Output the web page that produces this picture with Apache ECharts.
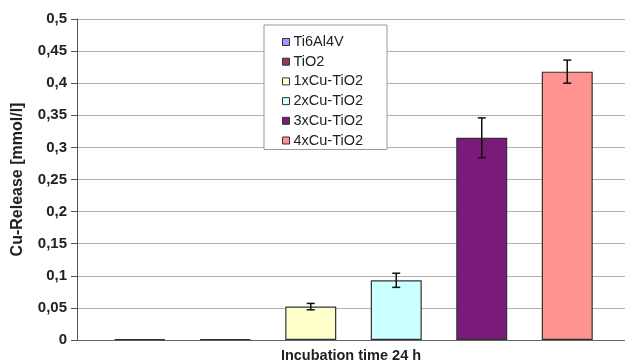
<!DOCTYPE html>
<html><head><meta charset="utf-8">
<script src="https://cdn.jsdelivr.net/npm/echarts@6/dist/echarts.min.js"></script>
<style>html,body{margin:0;padding:0;background:#fff}#c{width:625px;height:363px}</style>
</head><body><div id="c"></div>
<script>
const seriesNames = ['Ti6Al4V','TiO2','1xCu-TiO2','2xCu-TiO2','3xCu-TiO2','4xCu-TiO2'];
const values = [0.001, 0.001, 0.052, 0.093, 0.315, 0.418];
const errors = [0, 0, 0.005, 0.011, 0.031, 0.018];
const colors = ['#9999ff','#993366','#ffffcc','#ccffff','#7b1a78','#ff938f'];
const yTicks = [0, 0.05, 0.1, 0.15, 0.2, 0.25, 0.3, 0.35, 0.4, 0.45, 0.5];
const xTitle = 'Incubation time 24 h';
const yTitle = 'Cu-Release [mmol/l]';

const chart = echarts.init(document.getElementById('c'));
const font = 'Arial, "Liberation Sans", sans-serif';
const series = seriesNames.map((n,i)=>({
  name:n, type:'bar', xAxisIndex:1, yAxisIndex:1,
  barWidth:51, barGap:'-100%',
  itemStyle:{color:colors[i], borderColor:'#333', borderWidth:1.2},
  data: values.map((v,j)=> j===i ? v : '-')
}));
series.push({
  type:'custom', xAxisIndex:1, yAxisIndex:1, silent:true,
  data: values.map((v,i)=>[i, v-errors[i], v+errors[i]]).filter((d,i)=>errors[i]>0),
  renderItem:(params, api)=>{
    const lo = api.coord([api.value(0), api.value(1)]);
    const hi = api.coord([api.value(0), api.value(2)]);
    const w = 4;
    const st = {stroke:'#111', lineWidth:1.5};
    return {type:'group', children:[
      {type:'line', shape:{x1:lo[0],y1:lo[1],x2:hi[0],y2:hi[1]}, style:st},
      {type:'line', shape:{x1:lo[0]-w,y1:lo[1],x2:lo[0]+w,y2:lo[1]}, style:st},
      {type:'line', shape:{x1:hi[0]-w,y1:hi[1],x2:hi[0]+w,y2:hi[1]}, style:st}
    ]};
  },
  z:5
});
chart.setOption({
  animation:false,
  grid:[{left:77, right:0, top:19, bottom:23, containLabel:false, outerBoundsMode:'none'},
        {left:97, right:15, top:19, bottom:23, containLabel:false, outerBoundsMode:'none'}],
  legend:{
    orient:'vertical', left:264, top:25, itemWidth:7, itemHeight:7, itemGap:3.7,
    data:seriesNames, backgroundColor:'#fff', borderColor:'#999', borderWidth:1,
    padding:[9,24,1,18], icon:'rect', itemStyle:{borderColor:'#333', borderWidth:1},
    textStyle:{fontFamily:font, fontSize:14.5, lineHeight:16, color:'#222', padding:[0,0,0,-1]}
  },
  xAxis:[
    {type:'category', gridIndex:0, data:[''], axisTick:{show:false}, axisLabel:{show:false},
     axisLine:{lineStyle:{color:'#666'}},
     name:xTitle, nameLocation:'middle', nameGap:8,
     nameTextStyle:{fontFamily:font, fontSize:14.5, fontWeight:'bold', color:'#222'}},
    {type:'category', gridIndex:1, data:seriesNames, show:false}
  ],
  yAxis:[
    {type:'value', gridIndex:0, min:0, max:0.5, interval:0.05,
     axisLine:{show:true, lineStyle:{color:'#555'}},
     axisTick:{show:true, inside:false, length:6, lineStyle:{color:'#555'}},
     splitLine:{lineStyle:{color:'#b0b0b0'}},
     axisLabel:{fontFamily:font, fontSize:15, fontWeight:'bold', color:'#222', margin:10,
       formatter:v=>{const t=yTicks.find(x=>Math.abs(x-v)<1e-9); return String(+(t!==undefined?t:v).toFixed(2)).replace('.',',');}},
     name:yTitle, nameLocation:'middle', nameGap:51,
     nameTextStyle:{fontFamily:font, fontSize:16, fontWeight:'bold', color:'#222'}},
    {type:'value', gridIndex:1, min:0, max:0.5, show:false}
  ],
  series:series
});
</script></body></html>
